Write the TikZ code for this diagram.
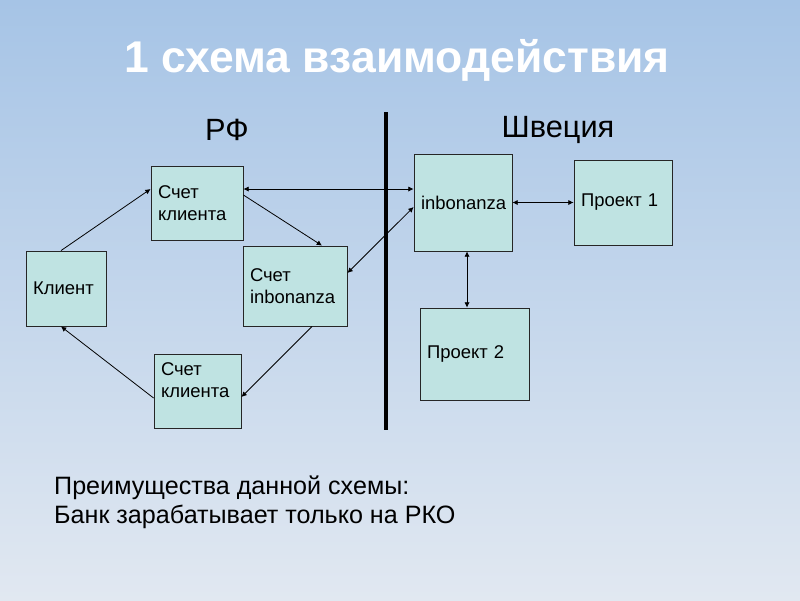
\documentclass[tikz,border=0pt]{standalone}
\usepackage{fontspec}
\setmainfont{Liberation Sans}
\usetikzlibrary{arrows.meta}
\begin{document}
\begin{tikzpicture}[x=0.02cm,y=-0.02cm,
	box/.style={draw=black!85,fill=boxfill,line width=0.5pt,inner xsep=0.14cm,align=left,font=\fontsize{10.5}{12.3}\selectfont},
	link/.style={line width=0.45pt,-{Latex[length=3pt,width=3pt]}},
	both/.style={line width=0.45pt,{Latex[length=3pt,width=3pt]}-{Latex[length=3pt,width=3pt]}}]
	\definecolor{boxfill}{HTML}{BFE3E2}
	\shade[top color={rgb,255:red,166;green,196;blue,230},middle color={rgb,255:red,214;green,225;blue,239},bottom color={rgb,255:red,225;green,232;blue,241}] (0,0) rectangle (800,600);
	\useasboundingbox (0,0) rectangle (800,600);
	\node[white,font=\bfseries\fontsize{25.3}{30}\selectfont] (title) at (397,60) {1 схема взаимодействия};
	\node[font=\fontsize{17.5}{20}\selectfont] (rf) at (227,130) {РФ};
	\node[font=\fontsize{17.5}{20}\selectfont] (se) at (558,130) {Швеция};
	\draw[line width=2.3pt] (386,112) -- (386,430);
	% left side
	\node[box,minimum width=1.6cm,minimum height=1.5cm,text width=1.32cm] (klient) at (66,288.5) {Клиент};
	\node[box,minimum width=1.84cm,minimum height=1.48cm,text width=1.56cm] (schet1) at (197,203) {Счет\\клиента};
	\node[box,minimum width=2.08cm,minimum height=1.6cm,text width=1.8cm] (schetinb) at (295,286) {Счет\\inbonanza};
	\node[box,minimum width=1.74cm,minimum height=1.48cm,text width=1.46cm] (schet2) at (197.5,391) {Счет\\клиента\\\mbox{}};
	% right side
	\node[box,minimum width=1.96cm,minimum height=1.94cm,text width=1.68cm] (inb) at (463,202.5) {inbonanza};
	\node[box,minimum width=1.96cm,minimum height=1.7cm,text width=1.68cm] (proj1) at (623,202.5) {Проект 1};
	\node[box,minimum width=2.18cm,minimum height=1.84cm,text width=1.9cm] (proj2) at (474.5,354) {Проект 2};
	\draw[link] ([xshift=-0.1cm]klient.north) -- ([yshift=0.28cm]schet1.west);
	\draw[both] ([yshift=0.28cm]schet1.east) -- ([yshift=0.28cm]schet1.east -| inb.west);
	\draw[link] ([yshift=0.16cm]schet1.east) -- ([xshift=0.54cm]schetinb.north);
	\draw[both] ([yshift=-0.09cm]inb.west) -- ([yshift=0.26cm]schetinb.east);
	\draw[link] ([xshift=0.34cm]schetinb.south) -- ([yshift=-0.12cm]schet2.east);
	\draw[link] ([yshift=-0.14cm]schet2.west) -- ([xshift=-0.1cm]klient.south);
	\draw[both] (inb.east) -- (proj1.west);
	\draw[both] ([xshift=0.08cm]inb.south) -- ([xshift=0.08cm]inb.south |- proj2.north);
	\node[anchor=north west,align=left,font=\fontsize{14.3}{16.2}\selectfont] (adv) at (48,470) {Преимущества данной схемы:\\Банк зарабатывает только на РКО};
\end{tikzpicture}
\end{document}
